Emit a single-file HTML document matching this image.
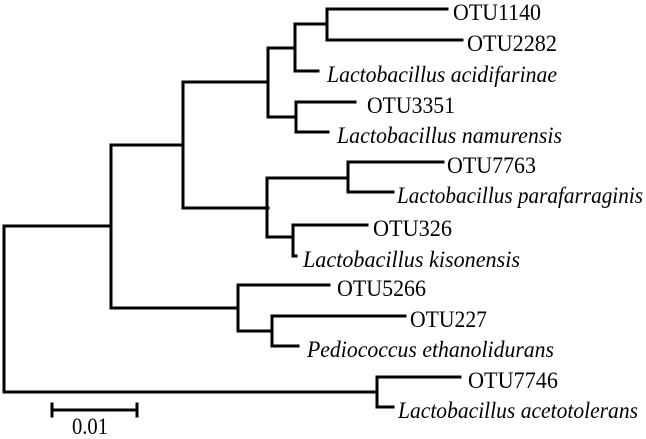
<!DOCTYPE html>
<html><head><meta charset="utf-8"><style>
html,body{margin:0;padding:0;background:#fff;}
svg{display:block;}
text{font-family:"Liberation Serif",serif;font-size:23px;fill:#000;}
.i{font-style:italic;}
</style></head><body>
<svg width="646" height="439" viewBox="0 0 646 439" xmlns="http://www.w3.org/2000/svg">
<g stroke="#000" stroke-width="3" fill="none" stroke-linecap="square">
<path d="M111 226H4V392H377"/>
<path d="M183 145H111V308H238"/>
<path d="M268 82H183V208H268"/>
<path d="M295 48H268V117H296"/>
<path d="M327 24H295V71H318"/>
<path d="M447 9H327V40H462"/>
<path d="M355 102H296V132H328"/>
<path d="M348 178H267V237H293"/>
<path d="M443 162H348V192H393"/>
<path d="M367 225H293V256H296"/>
<path d="M329 285H238V331H272"/>
<path d="M405 316H272V346H298"/>
<path d="M460 377H377V407H393"/>
<path d="M52 410H137M52 404V416M137 404V416"/>
</g>
<text x="453" y="20" textLength="88" lengthAdjust="spacingAndGlyphs">OTU1140</text>
<text x="467" y="51" textLength="90" lengthAdjust="spacingAndGlyphs">OTU2282</text>
<text class="i" x="327" y="82" textLength="230" lengthAdjust="spacingAndGlyphs">Lactobacillus acidifarinae</text>
<text x="367" y="113" textLength="88" lengthAdjust="spacingAndGlyphs">OTU3351</text>
<text class="i" x="337" y="143" textLength="225" lengthAdjust="spacingAndGlyphs">Lactobacillus namurensis</text>
<text x="447" y="173" textLength="89" lengthAdjust="spacingAndGlyphs">OTU7763</text>
<text class="i" x="397" y="203" textLength="246" lengthAdjust="spacingAndGlyphs">Lactobacillus parafarraginis</text>
<text x="373" y="236" textLength="79" lengthAdjust="spacingAndGlyphs">OTU326</text>
<text class="i" x="303" y="267" textLength="217" lengthAdjust="spacingAndGlyphs">Lactobacillus kisonensis</text>
<text x="337" y="296" textLength="89" lengthAdjust="spacingAndGlyphs">OTU5266</text>
<text x="410" y="327" textLength="77" lengthAdjust="spacingAndGlyphs">OTU227</text>
<text class="i" x="307" y="357" textLength="247" lengthAdjust="spacingAndGlyphs">Pediococcus ethanolidurans</text>
<text x="468" y="388" textLength="90" lengthAdjust="spacingAndGlyphs">OTU7746</text>
<text class="i" x="398" y="418" textLength="240" lengthAdjust="spacingAndGlyphs">Lactobacillus acetotolerans</text>
<text x="72" y="434" textLength="36" lengthAdjust="spacingAndGlyphs">0.01</text>
</svg>
</body></html>
